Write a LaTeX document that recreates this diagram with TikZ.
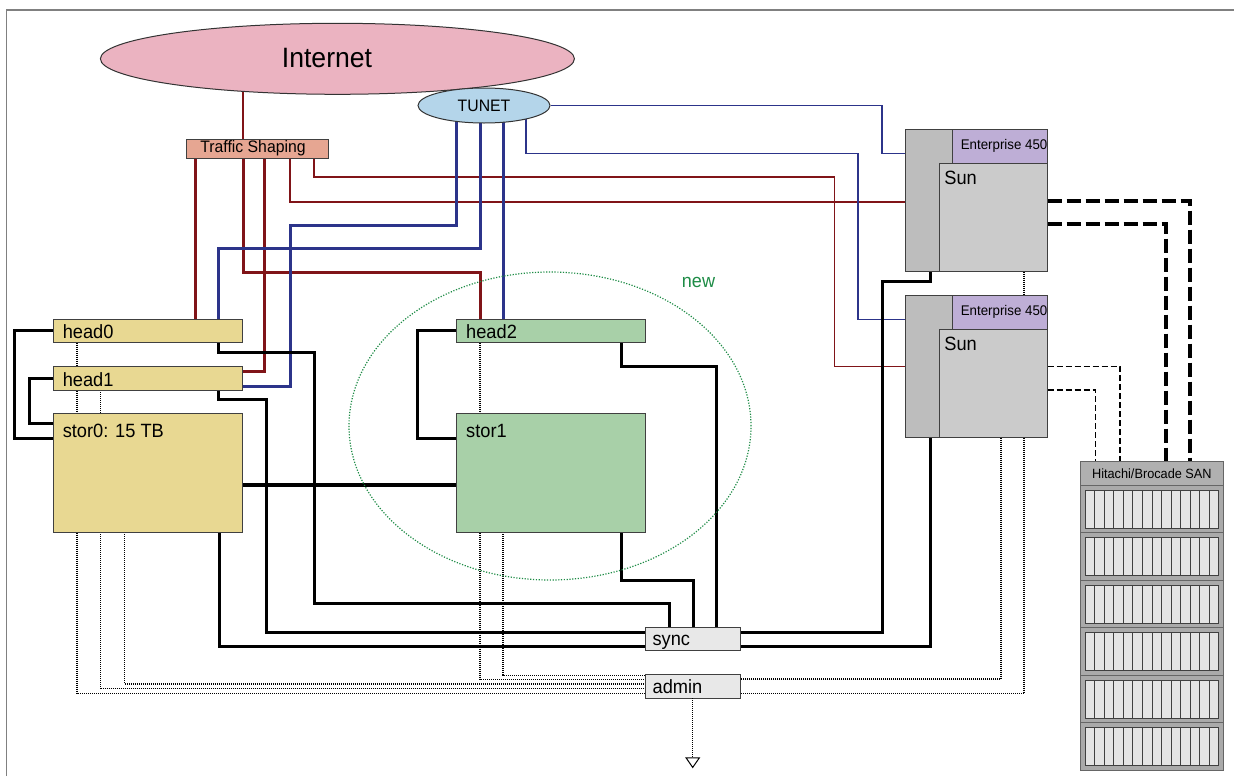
\documentclass[tikz,border=0pt]{standalone}
\usepackage{fontspec}
\setmainfont{Liberation Sans}[FakeStretch=0.95]
\setsansfont{Liberation Sans}[FakeStretch=0.95]
\usetikzlibrary{fit,shapes.geometric,arrows.meta}
\pgfdeclarelayer{back}
\pgfdeclarelayer{bg}
\pgfsetlayers{back,bg,main}
\definecolor{inetpink}{HTML}{EBB3C1}
\definecolor{tunetblue}{HTML}{B4D5EA}
\definecolor{tsfill}{HTML}{E6A692}
\definecolor{hdtan}{HTML}{E8D892}
\definecolor{newfill}{HTML}{A8D0A8}
\definecolor{sunpurple}{HTML}{BEAED6}
\definecolor{sunlight}{HTML}{CBCBCB}
\definecolor{sundark}{HTML}{BDBDBD}
\definecolor{ctlgray}{HTML}{E8E8E8}
\definecolor{sanhead}{HTML}{B0B0B0}
\definecolor{sanunit}{HTML}{AAAAAA}
\definecolor{sanslot}{HTML}{E4E4E4}
\definecolor{netred}{HTML}{801418}
\definecolor{netblue}{HTML}{2C348A}
\definecolor{newgreen}{HTML}{1E8C46}
\begin{document}
\begin{tikzpicture}[x=0.5pt,y=-0.5pt,
  pbox/.style={draw=black!75, line width=0.5pt, inner sep=0pt, outer sep=0pt},
  lbl/.style={font=\fontsize{9.6}{11}\selectfont, inner sep=0pt, anchor=base west},
  redthin/.style={draw=netred, line width=0.65pt},
  redthick/.style={draw=netred, line width=1.5pt},
  bluethin/.style={draw=netblue, line width=0.65pt},
  bluethick/.style={draw=netblue, line width=1.5pt},
  blk/.style={draw=black, line width=1.5pt},
  blkx/.style={draw=black, line width=2.4pt},
  adm/.style={draw=black, line width=0.55pt, dash pattern=on 0.5pt off 0.5pt},
  santhick/.style={draw=black, line width=1.7pt, dash pattern=on 7pt off 2.5pt},
  santhin/.style={draw=black, line width=0.75pt, dash pattern=on 3pt off 1.5pt}]
\useasboundingbox (0,0) rectangle (1234,776);
\begin{pgfonlayer}{back}
\fill[white] (0,0) rectangle (1234,776);
\draw[gray, line width=0.7pt] (6.5,776) -- (6.5,10) -- (1234,10);
\end{pgfonlayer}

% ---------- nodes ----------
\node[ellipse, draw=black!80, line width=0.5pt, fill=inetpink, minimum width=237pt, minimum height=35.5pt, inner sep=0pt] (inet) at (337.4,58.8) {};
\node[font=\fontsize{14}{16}\selectfont, inner sep=0pt] (inettext) at (327,57.7) {Internet};
\node[ellipse, draw=black!80, line width=0.5pt, fill=tunetblue, minimum width=66pt, minimum height=17.5pt, inner sep=0pt, font=\fontsize{8.3}{10}\selectfont] (tunet) at (484,105.5) {TUNET};
\node[pbox, fill=tsfill, fit={(186,139)(328,158)}] (ts) {};
\node[font=\fontsize{8.3}{10}\selectfont, inner sep=0pt] (tst) at ([xshift=-2]ts.center) {Traffic Shaping};

\node[pbox, fill=hdtan, fit={(53.4,319)(242.8,342.7)}] (head0) {};
\node[pbox, fill=hdtan, fit={(53.4,366.7)(242.8,390)}] (head1) {};
\node[pbox, fill=hdtan, fit={(53.4,413.7)(242.8,532.3)}] (stor0) {};
\node[lbl] (head0t) at ([shift={(9,19.3)}]head0.north west) {head0};
\node[lbl] (head1t) at ([shift={(9,19.3)}]head1.north west) {head1};
\node[lbl] (stor0t) at ([shift={(9,24)}]stor0.north west) {stor0: 15 TB};

\node[pbox, fill=newfill, fit={(456,319)(645.3,342.7)}] (head2) {};
\node[pbox, fill=newfill, fit={(456,413.7)(645.3,532.3)}] (stor1) {};
\node[lbl] (head2t) at ([shift={(9.8,19.3)}]head2.north west) {head2};
\node[lbl] (stor1t) at ([shift={(9.8,24)}]stor1.north west) {stor1};

\node[ellipse, draw=newgreen, line width=0.6pt, dash pattern=on 0.6pt off 0.8pt, minimum width=201pt, minimum height=154pt, inner sep=0pt] (newzone) at (550,426) {};
\node[font=\fontsize{9.5}{11}\selectfont, text=newgreen, inner sep=0pt] (newlbl) at (698.5,282.5) {new};

\node[pbox, fill=sundark, fit={(905,129.7)(1047.6,271.7)}] (sun1) {};
\node[pbox, fill=sunpurple, fit={(952.6,129.7)(1047.6,163)}] (sun1e) {};
\node[font=\fontsize{7}{8}\selectfont, inner sep=0pt] (sun1et) at ([xshift=2]sun1e.center) {Enterprise 450};
\node[pbox, fill=sunlight, fit={(939,163)(1047.6,271.7)}] (sun1l) {};
\node[lbl] (sun1t) at ([shift={(5,21.5)}]sun1l.north west) {Sun};

\node[pbox, fill=sundark, fit={(905,295.7)(1047.6,437.7)}] (sun2) {};
\node[pbox, fill=sunpurple, fit={(952.6,295.7)(1047.6,329)}] (sun2e) {};
\node[font=\fontsize{7}{8}\selectfont, inner sep=0pt] (sun2et) at ([xshift=2]sun2e.center) {Enterprise 450};
\node[pbox, fill=sunlight, fit={(939,329)(1047.6,437.7)}] (sun2l) {};
\node[lbl] (sun2t) at ([shift={(5,21.5)}]sun2l.north west) {Sun};

\node[pbox, fill=ctlgray, fit={(645.2,627.3)(740.2,650.7)}] (sync) {};
\node[lbl] (synct) at ([shift={(7,17.7)}]sync.north west) {sync};
\node[pbox, fill=ctlgray, fit={(645.2,674.3)(740.2,698.3)}] (admin) {};
\node[lbl] (admint) at ([shift={(7,18.7)}]admin.north west) {admin};
\coordinate (adminend) at (692.7,768.3);

\node[pbox, draw=black!60, fill=sanhead, fit={(1080.7,461.7)(1223,485)}] (san) {};
\node[font=\fontsize{6.7}{8}\selectfont, inner sep=0pt] (sant) at (san.center) {Hitachi/Brocade SAN};
\foreach \i in {0,...,5} {
  \pgfmathsetmacro\ut{485+47.5*\i}
  \draw[draw=black!60, fill=sanunit, line width=0.5pt] (1080.7,\ut) rectangle (1223,\ut+47.5);
  \draw[draw=black!75, fill=sanslot, line width=0.5pt] (1085.3,\ut+5) rectangle (1218.7,\ut+43);
  \foreach \k in {1,...,13} {
    \draw[black!75, line width=0.5pt] (1085.3+9.529*\k,\ut+5) -- (1085.3+9.529*\k,\ut+43);
  }
}

% ---------- connectors ----------
\begin{pgfonlayer}{bg}
% internet / traffic shaping (red)
\draw[redthin] (ts.north -| 243,0) -- (243,0 |- inet.center);
\draw[redthick] (ts.south -| 195,0) -- (head0.north -| 195,0);
\draw[redthick] (ts.south -| 243,0) -- (243,272) -- (480,272) -- (head2.north -| 480,0);
\draw[redthick] (ts.south -| 264.5,0) |- (head1.east |- 0,371.3);
\draw[redthin] (ts.south -| 290,0) |- (sun1.west |- 0,202);
\draw[redthin] (ts.south -| 314,0) -- (314,177) -- (834.5,177) |- (sun2.west |- 0,366.7);
% TUNET (blue)
\draw[bluethick] (456,0 |- tunet.center) -- (456,225) -- (290,225) |- (head1.east |- 0,386);
\draw[bluethick] (480,0 |- tunet.center) -- (480,248) -- (218.7,248) -- (head0.north -| 218.7,0);
\draw[bluethick] (503,0 |- tunet.center) -- (head2.north -| 503,0);
\draw[bluethin] (526,0 |- tunet.center) -- (526,153.7) -- (858,153.7) |- (sun2.west |- 0,319.3);
\draw[bluethin] (tunet.east) -| (882,153.7) -- (sun1.west |- 0,153.7);
% black (sync)
\draw[blk] (head0.west) -| (14.2,438.3) -- (stor0.west |- 0,438.3);
\draw[blk] (head1.west) -| (29.7,423.7) -- (stor0.west |- 0,423.7);
\draw[blk] (head2.west) -| (417.2,438.3) -- (stor1.west |- 0,438.3);
\draw[blkx] (stor0.east |- 0,485) -- (stor1.west |- 0,485);
\draw[blk] (head0.south -| 218.7,0) -- (218.7,352) -- (314,352) -- (314,603.3) -- (669.4,603.3) -- (sync.north -| 669.4,0);
\draw[blk] (head1.south -| 218.7,0) -- (218.7,399.7) -- (266,399.7) |- (sync.west |- 0,632);
\draw[blk] (stor0.south -| 219.6,0) |- (sync.west |- 0,646);
\draw[blk] (stor1.south -| 621.4,0) -- (621.4,580) -- (693.2,580) -- (sync.north -| 693.2,0);
\draw[blk] (head2.south -| 621,0) -- (621,366.7) -- (716.5,366.7) -- (sync.north -| 716.5,0);
\draw[blk] (sun1.south -| 930,0) -- (930,281.7) -- (882,281.7) |- (sync.east |- 0,632);
\draw[blk] (sun2.south -| 930,0) |- (sync.east |- 0,646);
% dotted (admin)
\draw[adm] (head0.south -| 77,0) |- (admin.west |- 0,693.3);
\draw[adm] (head1.south -| 100.8,0) |- (admin.west |- 0,688.3);
\draw[adm] (stor0.south -| 124.6,0) |- (admin.west |- 0,684);
\draw[adm] (head2.south -| 480,0) |- (admin.west |- 0,679.3);
\draw[adm] (stor1.south -| 503,0) |- (admin.west |- 0,675.2);
\draw[adm] (sun1.south -| 1024,0) |- (admin.east |- 0,693.3);
\draw[adm] (sun2.south -| 1001,0) |- (admin.east |- 0,679);
% dashed (SAN)
\draw[santhick] (sun1.east |- 0,201) -| (san.north -| 1190,0);
\draw[santhick] (sun1.east |- 0,224) -| (san.north -| 1166,0);
\draw[santhin] (sun2.east |- 0,366.7) -| (san.north -| 1120,0);
\draw[santhin] (sun2.east |- 0,390) -| (san.north -| 1095.4,0);
\end{pgfonlayer}
\draw[adm, -{Triangle[open, length=5.5pt, width=7.5pt, line width=0.5pt]}] (admin.south) -- (adminend);
\end{tikzpicture}
\end{document}
